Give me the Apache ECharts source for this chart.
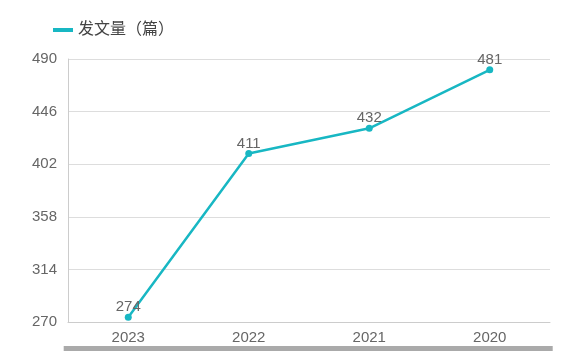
<!DOCTYPE html>
<html><head><meta charset="utf-8">
<script src="https://cdn.jsdelivr.net/npm/echarts@6/dist/echarts.min.js"></script>
<style>html,body{margin:0;padding:0;background:#fff}#c{width:584px;height:359px}</style>
</head><body><div id="c"></div>
<script>
const categories = ['2023', '2022', '2021', '2020'];
const values = [274, 411, 432, 481];
const seriesName = '发文量（篇）';
const yMin = 270, yMax = 490, yStep = 44;

const chart = echarts.init(document.getElementById('c'));
chart.setOption({
  animation: false,
  textStyle: { fontFamily: '"Liberation Sans", "Noto Sans CJK SC", sans-serif' },
  legend: {
    left: 48, top: 17,
    icon: 'rect', itemWidth: 20, itemHeight: 4,
    textStyle: { fontSize: 16, color: '#444' },
    data: [seriesName]
  },
  grid: { left: 68, right: 34, top: 59, bottom: 37 },
  xAxis: {
    type: 'category', data: categories,
    axisLine: { lineStyle: { color: '#ccc' } },
    axisTick: { alignWithLabel: true, length: 4, lineStyle: { color: '#ccc' } },
    axisLabel: { fontSize: 15, color: '#666', margin: 8 }
  },
  yAxis: {
    type: 'value', min: yMin, max: yMax, interval: yStep,
    axisLine: { show: true, lineStyle: { color: '#ccc' } },
    axisTick: { show: false },
    axisLabel: { fontSize: 15, color: '#666', margin: 11 },
    splitLine: { lineStyle: { color: '#ddd' } }
  },
  dataZoom: [{
    type: 'slider', xAxisIndex: 0, start: 0, end: 100,
    left: 63, right: 32, bottom: 8, height: 5,
    backgroundColor: 'transparent', borderColor: 'transparent',
    fillerColor: '#aaa', showDataShadow: false, showDetail: false,
    handleSize: 0, moveHandleSize: 0, brushSelect: false,
    handleStyle: { opacity: 0 }, zoomLock: true
  }],
  series: [{
    name: seriesName, type: 'line', data: values,
    symbol: 'circle', symbolSize: 7,
    itemStyle: { color: '#18b7c3' },
    lineStyle: { width: 2.5, color: '#18b7c3' },
    label: { show: true, position: 'top', fontSize: 15, color: '#666', distance: -1 }
  }]
});
</script></body></html>
